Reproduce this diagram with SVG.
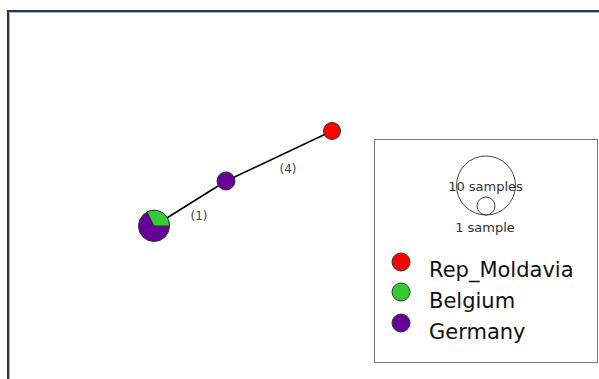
<svg xmlns="http://www.w3.org/2000/svg" width="599" height="379" viewBox="0 0 599 379">
<style>
.node{stroke:#333;stroke-width:1}
.lbl{font-family:"DejaVu Sans",Verdana,sans-serif;font-size:12px;fill:#444}
.leg{font-family:"DejaVu Sans",Verdana,sans-serif;font-size:21px;fill:#111}
.sz{font-family:"DejaVu Sans",Verdana,sans-serif;font-size:13px;fill:#333;text-anchor:middle}
</style>
<rect width="599" height="379" fill="#fff"/>
<path d="M8,379 V11 H599" fill="none" stroke="#27355a" stroke-width="2"/>
<path d="M9.5,379 V12.5 H599" fill="none" stroke="#a8b3c8" stroke-width="1"/>
<g id="connectors">
<line x1="154" y1="226" x2="226" y2="181" stroke="#000" stroke-width="1.6"/>
<line x1="226" y1="181" x2="332" y2="131" stroke="#000" stroke-width="1.6"/>
<text class="lbl" x="199" y="220" text-anchor="middle">(1)</text>
<text class="lbl" x="288" y="173" text-anchor="middle">(4)</text>
</g>
<g id="node-mixed">
<circle class="node" cx="154" cy="226" r="15.5" fill="#660099"/>
<path class="node" d="M154,226 L147,211.8 A15.5,15.5 0 0 1 169.5,226 Z" fill="#33cc33"/>
</g>
<g id="node-germany">
<circle class="node" cx="226" cy="181" r="9" fill="#660099"/>
</g>
<g id="node-moldavia">
<circle class="node" cx="332" cy="131" r="8.5" fill="#ff0000"/>
</g>
<g id="legend">
<rect x="374.5" y="139.5" width="223" height="223" fill="#fff" stroke="#777" stroke-width="1"/>
<circle cx="486" cy="185.5" r="29.5" fill="none" stroke="#444" stroke-width="1"/>
<circle cx="486" cy="206" r="9" fill="none" stroke="#444" stroke-width="1"/>
<text class="sz" x="485.5" y="191">10 samples</text>
<text class="sz" x="485" y="232">1 sample</text>
<circle class="node" cx="401" cy="262" r="9" fill="#ff0000"/>
<circle class="node" cx="401" cy="292" r="9" fill="#33cc33"/>
<circle class="node" cx="401" cy="323" r="9" fill="#660099"/>
<text class="leg" x="429" y="277">Rep_Moldavia</text>
<text class="leg" x="429" y="308">Belgium</text>
<text class="leg" x="429" y="339">Germany</text>
</g>
</svg>
